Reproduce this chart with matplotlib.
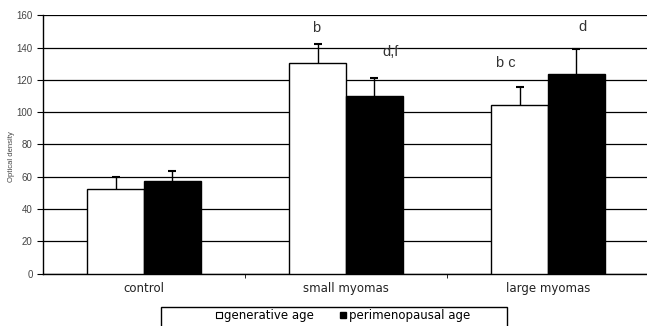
import matplotlib
matplotlib.use("Agg")
import matplotlib.pyplot as plt
from matplotlib.lines import Line2D
from matplotlib.patches import Rectangle
import numpy as np

# data
groups = ["control", "small myomas", "large myomas"]
generative = [52.4, 130.4, 104.2]
generative_err = [7.3, 12.0, 11.5]
perimeno = [57.4, 110.3, 123.7]
perimeno_err = [6.4, 11.0, 15.3]
# significance letters: (text, x in category units, y value)
letters = [("b", 0.85, 152), ("d,f", 1.22, 137), ("b c", 1.79, 130.5), ("d", 2.17, 152.6)]

fig = plt.figure(figsize=(6.47, 3.26), dpi=100)
ax = fig.add_axes([43 / 647, 52.5 / 326, 606 / 647, 258.2 / 326])

x = np.arange(len(groups))
w = 0.28
ax.bar(x - w / 2, generative, w, color="white", edgecolor="black", linewidth=1, zorder=3)
ax.bar(x + w / 2, perimeno, w, color="black", edgecolor="black", linewidth=1, zorder=3)
for xs, vals, errs in [(x - w / 2, generative, generative_err), (x + w / 2, perimeno, perimeno_err)]:
    eb = ax.errorbar(xs, vals, yerr=[np.zeros(3), errs], fmt="none",
                     ecolor="black", elinewidth=1, capsize=3, capthick=1.5, zorder=4)
    # only the upper cap, as in the original
    eb[1][0].set_visible(False)

for txt, tx, ty in letters:
    ax.text(tx, ty, txt, ha="center", va="center", fontsize=10.5,
            family="Liberation Sans", color="#333333")

ax.set_xlim(-0.5, 2.5)
ax.set_ylim(0, 160)
ax.set_yticks(range(0, 161, 20))
ax.yaxis.grid(True, color="black", linewidth=0.9)
ax.set_axisbelow(True)
for s in ["top", "right"]:
    ax.spines[s].set_visible(False)
ax.spines["left"].set_linewidth(1)
ax.spines["bottom"].set_linewidth(1)

ax.set_xticks(x)
ax.set_xticklabels(groups, family="DejaVu Sans", fontsize=8.5, color="#222222")
ax.tick_params(axis="x", which="major", length=0, pad=6)
ax.set_xticks([0.5, 1.5], minor=True)
ax.tick_params(axis="x", which="minor", length=3, direction="out")
ax.tick_params(axis="y", length=4, direction="out", labelsize=7, labelcolor="#444444")
for lbl in ax.get_yticklabels():
    lbl.set_family("Liberation Sans")

fig.text(12 / 647, 1 - 157 / 326, "Optical density", rotation=90, ha="center", va="center",
         fontsize=5.5, family="Liberation Sans", color="#444444")

# legend with a box running off the bottom edge
fig.patches.append(Rectangle((161 / 647, -0.05), (507 - 161) / 647, 0.05 + 19 / 326,
                             transform=fig.transFigure, facecolor="white",
                             edgecolor="black", linewidth=1))
handles = [Line2D([], [], marker="s", linestyle="none", markersize=4,
                  markerfacecolor="white", markeredgecolor="black", markeredgewidth=0.8),
           Line2D([], [], marker="s", linestyle="none", markersize=4,
                  markerfacecolor="black", markeredgecolor="black")]
fig.legend(handles, ["generative age", "perimenopausal age"], loc="center",
           bbox_to_anchor=(343 / 647, 1 - 316 / 326), ncol=2, frameon=False,
           handlelength=0.4, handletextpad=0.3, columnspacing=2.2,
           prop={"family": "DejaVu Sans", "size": 8.5})

fig.savefig("out.png", dpi=100)
